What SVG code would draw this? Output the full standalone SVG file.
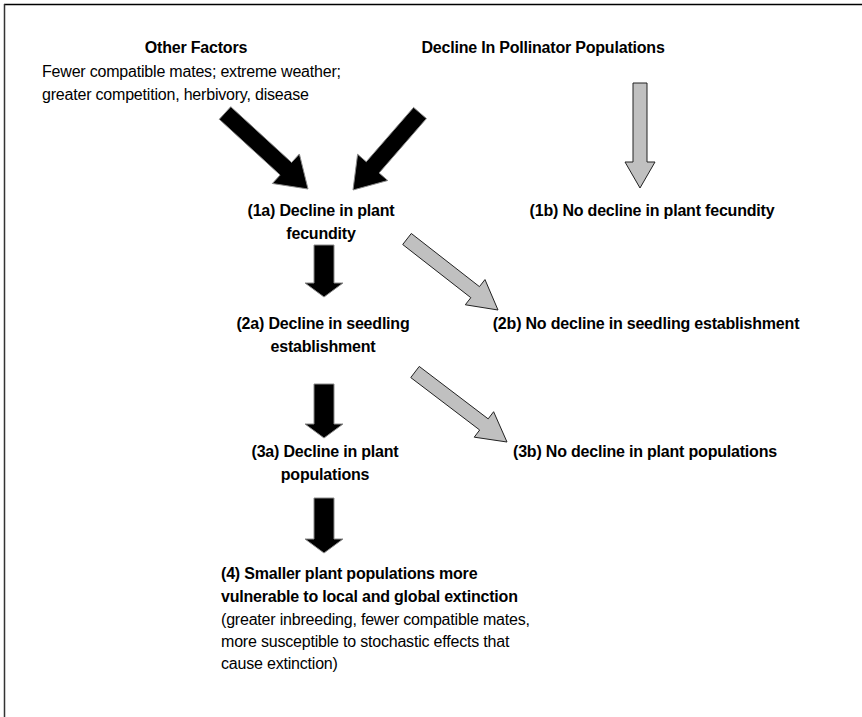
<svg xmlns="http://www.w3.org/2000/svg" width="862" height="717" viewBox="0 0 862 717">
<style>
text{font-family:"Liberation Sans",Arial,sans-serif;font-size:16px;fill:#000;letter-spacing:-0.2px}
.b{font-weight:bold}
.c{text-anchor:middle}
.blk{fill:#000;stroke:#8a8a8a;stroke-width:1}
.gry{fill:#c0c0c0;stroke:#222;stroke-width:1}
</style>
<rect x="0" y="0" width="862" height="717" fill="#fff"/>
<g id="frame">
<line x1="4" y1="4.5" x2="862" y2="4.5" stroke="#000" stroke-width="1.5"/>
<line x1="4.5" y1="4" x2="4.5" y2="717" stroke="#333" stroke-width="1.5"/>
</g>
<g id="other-factors">
<text class="b c" x="196" y="53">Other Factors</text>
<text x="42" y="77">Fewer compatible mates; extreme weather;</text>
<text x="42" y="100">greater competition, herbivory, disease</text>
</g>
<g id="pollinator-decline">
<text class="b c" x="543" y="53">Decline In Pollinator Populations</text>
</g>
<g id="n1a"><text class="b c" x="321" y="216">(1a) Decline in plant</text><text class="b c" x="321" y="239">fecundity</text></g>
<g id="n1b"><text class="b c" x="652" y="216">(1b) No decline in plant fecundity</text></g>
<g id="n2a"><text class="b c" x="323" y="329">(2a) Decline in seedling</text><text class="b c" x="323" y="352">establishment</text></g>
<g id="n2b"><text class="b c" x="646" y="329">(2b) No decline in seedling establishment</text></g>
<g id="n3a"><text class="b c" x="325" y="457">(3a) Decline in plant</text><text class="b c" x="325" y="480">populations</text></g>
<g id="n3b"><text class="b c" x="645" y="457">(3b) No decline in plant populations</text></g>
<g id="n4">
<text class="b" x="221" y="579">(4) Smaller plant populations more</text>
<text class="b" x="221" y="602">vulnerable to local and global extinction</text>
<text x="221" y="625">(greater inbreeding, fewer compatible mates,</text>
<text x="221" y="647">more susceptible to stochastic effects that</text>
<text x="221" y="669">cause extinction)</text>
</g>
<g id="connectors">
<polygon class="blk" points="219.26,119.27 280.13,175.00 272.36,183.49 308,189 299.38,153.97 291.61,162.46 230.74,106.73"/>
<polygon class="blk" points="413.59,107.42 366.28,161.79 357.60,154.24 353,190 387.78,180.50 379.10,172.95 426.41,118.58"/>
<polygon class="gry" points="633,83 647,83 647,162 655,162 640,188 625,162 633,162"/>
<polygon class="blk" points="314,245 334,245 334,283 343,283 324,297 305,283 314,283"/>
<polygon class="blk" points="314,384 334,384 334,424 343,424 324,438 305,424 314,424"/>
<polygon class="blk" points="314,498 334,498 334,539 343,539 324,553 305,539 314,539"/>
<polygon class="gry" points="402.69,244.52 470.83,297.68 465.30,304.77 498,310 484.98,279.55 479.45,286.64 411.31,233.48"/>
<polygon class="gry" points="410.76,377.57 479.68,430.01 474.23,437.17 507,442 493.61,411.71 488.16,418.87 419.24,366.43"/>
</g>
</svg>
